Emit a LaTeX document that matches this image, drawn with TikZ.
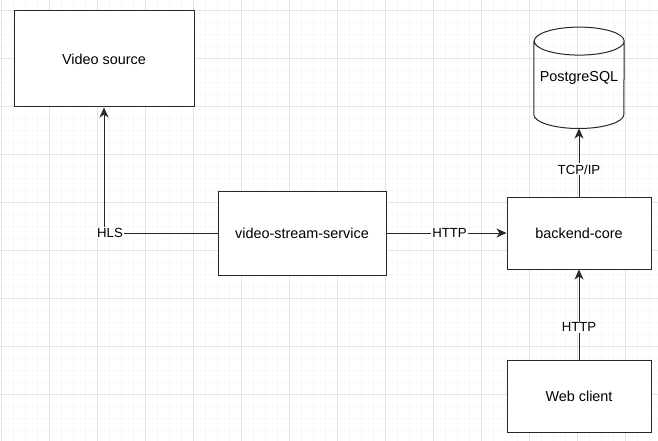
\documentclass[tikz,border=0pt]{standalone}
\usepackage{fontspec}
\setmainfont{Liberation Sans}
\usetikzlibrary{arrows.meta,positioning}
\definecolor{gridminor}{RGB}{247,247,247}
\definecolor{gridmajor}{RGB}{228,228,228}
\definecolor{strokegray}{RGB}{40,40,40}
\tikzset{
  box/.style={rectangle, draw=strokegray, line width=1pt, fill=white, align=center, font=\fontsize{14.4}{17}\selectfont},
  dbnode/.style={rectangle, draw=none, align=center, font=\fontsize{14.4}{17}\selectfont, minimum width=90pt, minimum height=101pt, inner sep=0pt},
  arrow/.style={-{Stealth[length=10pt,width=9pt,inset=3pt]}, line width=1pt, draw=strokegray},
  lbl/.style={fill=white, inner sep=1pt, font=\fontsize{13.2}{15}\selectfont}
}
\begin{document}
\begin{tikzpicture}[x=1pt, y=-1pt]
% page and grid
\useasboundingbox[fill=white] (0,0) rectangle (658,441);
\foreach \i in {0,...,54} \draw[gridminor, line width=0.8pt] ({1.3+12*\i},0) -- ({1.3+12*\i},441);
\foreach \j in {0,...,36} \draw[gridminor, line width=0.8pt] (0,{10.3+12*\j}) -- (658,{10.3+12*\j});
\foreach \i in {0,...,13} \draw[gridmajor, line width=0.8pt] ({1.3+48*\i},0) -- ({1.3+48*\i},441);
\foreach \j in {0,...,9} \draw[gridmajor, line width=0.8pt] (0,{10.3+48*\j}) -- (658,{10.3+48*\j});
% nodes
\node[box, minimum width=180pt, minimum height=96pt] (src) at (104,59) {Video source};
\node[box, minimum width=168pt, minimum height=84pt] (vss) at (302,233) {video-stream-service};
\node[box, minimum width=144pt, minimum height=72pt, right=120pt of vss] (core) {backend-core};
\node[box, minimum width=144pt, minimum height=72pt, below=90pt of core] (web) {Web client};
\node[dbnode, above=68pt of core] (db) {PostgreSQL};
% cylinder outline
\draw[strokegray, line width=1pt] ([yshift=-14pt]db.north west) -- ([yshift=14pt]db.south west)
  arc[start angle=180, end angle=360, x radius=45pt, y radius=14pt]
  -- ([yshift=-14pt]db.north east)
  arc[start angle=0, end angle=180, x radius=45pt, y radius=14pt]
  arc[start angle=180, end angle=360, x radius=45pt, y radius=14pt];
% connectors
\draw[arrow] (vss.west) -| node[lbl, pos=0.5, xshift=6pt] {HLS} (src.south);
\draw[arrow] (vss.east) -- node[lbl, xshift=3pt] {HTTP} (core.west);
\draw[arrow] (core.north) -- node[lbl, pos=0.4] {TCP/IP} (db.south);
\draw[arrow] (web.north) -- node[lbl, pos=0.36] {HTTP} (core.south);
\end{tikzpicture}
\end{document}
